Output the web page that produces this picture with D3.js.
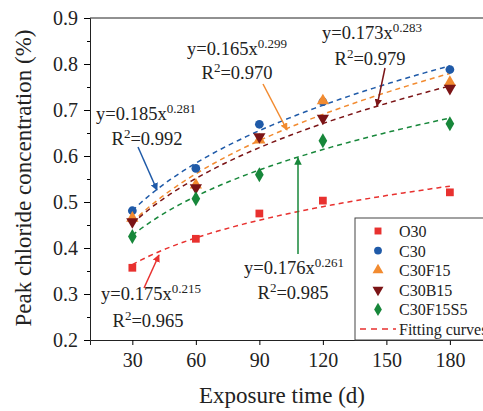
<!DOCTYPE html>
<html lang="en">
<head>
<meta charset="utf-8">
<style>
  body { margin: 0; background: white; }
  svg { background: white; }
  .tick text { font-size: 20px; }
  .ann { font-size: 18.5px; }
  .legend text { font-size: 16px; }
</style>
</head>
<body>
<div id="chart"></div>
<script src="https://d3js.org/d3.v7.min.js"></script>
<script>
// exposure times (d)
var days = [30, 60, 90, 120, 180];
var seriesNames = ["O30", "C30", "C30F15", "C30B15", "C30F15S5"];
var colors = ["#e8312f", "#1f5aa8", "#f28b30", "#7b1416", "#17873a"];

// peak chloride concentration (%)
var o30 = [0.357, 0.420, 0.475, 0.503, 0.521];
var c30 = [0.481, 0.573, 0.669, 0.718, 0.788];
var c30f15 = [0.465, 0.537, 0.635, 0.720, 0.760];
var c30b15 = [0.457, 0.531, 0.642, 0.682, 0.747];
var c30f15s5 = [0.425, 0.507, 0.559, 0.633, 0.670];

// fitted power law y = a x^b
var fitA = [0.175, 0.185, 0.165, 0.173, 0.176];
var fitB = [0.215, 0.281, 0.299, 0.283, 0.261];
var fitR2 = ["0.965", "0.992", "0.970", "0.979", "0.985"];

var xTicks = [30, 60, 90, 120, 150, 180];
var yTicks = [0.2, 0.3, 0.4, 0.5, 0.6, 0.7, 0.8, 0.9];

var allValues = [o30, c30, c30f15, c30b15, c30f15s5];

var W = 483, H = 411;
var margin = {top: 18, left: 90, bottom: 71};

var svg = d3.select("#chart").append("svg")
  .attr("width", W).attr("height", H);

var x = d3.scaleLinear().domain([10, 200]).range([margin.left, margin.left + 190 * 2.117]);
var y = d3.scaleLinear().domain([0.2, 0.9]).range([H - margin.bottom, margin.top]);

// axes
svg.append("g")
  .attr("transform", "translate(0," + y(0.2) + ")")
  .call(d3.axisBottom(x).tickValues(xTicks).tickSize(5).tickPadding(8).tickFormat(d3.format("d")))
  .call(function(g) { g.select(".domain").attr("stroke", "#222"); });

svg.append("g")
  .attr("transform", "translate(" + x(10) + ",0)")
  .call(d3.axisLeft(y).tickValues(d3.range(0.25, 0.9, 0.1)).tickSize(3).tickFormat(""))
  .call(function(g) { g.select(".domain").remove(); });

svg.append("g")
  .attr("transform", "translate(" + x(10) + ",0)")
  .call(d3.axisLeft(y).tickValues(yTicks).tickSize(6).tickPadding(6).tickFormat(d3.format(".1f")))
  .call(function(g) { g.select(".domain").attr("stroke", "#222"); });

// top frame
svg.append("line")
  .attr("x1", x(10)).attr("x2", x(200))
  .attr("y1", y(0.9)).attr("y2", y(0.9))
  .attr("stroke", "#222");

// fitting curves
var curveX = d3.range(30, 180.5, 2);
var line = d3.line().x(function(d) { return x(d[0]); }).y(function(d) { return y(d[1]); });
fitA.forEach(function(a, i) {
  var pts = curveX.map(function(t) { return [t, a * Math.pow(t, fitB[i])]; });
  svg.append("path")
    .attr("d", line(pts))
    .attr("fill", "none")
    .attr("stroke", colors[i])
    .attr("stroke-width", 1.5)
    .attr("stroke-dasharray", "5,4");
});

// markers
var symbols = [d3.symbolSquare, d3.symbolCircle, d3.symbolTriangle, d3.symbolTriangle, d3.symbolDiamond];
var sizes = [60, 60, 65, 65, 65];
var rotate = [0, 0, 0, 180, 0];
function sym(i, scale) {
  return d3.symbol().type(symbols[i]).size(sizes[i] * (scale || 1))();
}
allValues.forEach(function(vals, i) {
  svg.append("g").selectAll("path")
    .data(vals)
    .join("path")
    .attr("d", sym(i))
    .attr("fill", colors[i])
    .attr("transform", function(d, j) {
      return "translate(" + x(days[j]) + "," + y(d) + ") rotate(" + rotate[i] + ")";
    });
});

// annotations
var defs = svg.append("defs");
colors.forEach(function(c, i) {
  defs.append("marker")
    .attr("id", "arr" + i)
    .attr("viewBox", "0 0 10 10")
    .attr("refX", 9).attr("refY", 5)
    .attr("markerWidth", 5).attr("markerHeight", 5)
    .attr("orient", "auto-start-reverse")
    .append("path").attr("d", "M0,0 L10,5 L0,10 z").attr("fill", c);
});

var ann = [
  {i: 0, ex: 151, ey: 300, rx: 148, ry: 327, a: [144, 288, 159, 255]},
  {i: 1, ex: 146, ey: 120, rx: 147, ry: 145, a: [138, 147, 157, 190]},
  {i: 2, ex: 237, ey: 55, rx: 237, ry: 79, a: [263, 84, 287, 130]},
  {i: 3, ex: 372, ey: 39, rx: 370, ry: 65, a: [385, 68, 377, 106]},
  {i: 4, ex: 294, ey: 274, rx: 293, ry: 299, a: [298, 254, 298, 158]}
];

ann.forEach(function(d) {
  var t = svg.append("text").attr("class", "ann")
    .attr("x", d.ex).attr("y", d.ey).attr("text-anchor", "middle");
  t.append("tspan").text("y=" + fitA[d.i].toFixed(3) + "x");
  t.append("tspan").attr("dy", -7).attr("font-size", 13).text(fitB[d.i].toFixed(3));
  var r = svg.append("text").attr("class", "ann")
    .attr("x", d.rx).attr("y", d.ry).attr("text-anchor", "middle");
  r.append("tspan").text("R");
  r.append("tspan").attr("dy", -7).attr("font-size", 13).text("2");
  r.append("tspan").attr("dy", 7).text("=" + fitR2[d.i]);
  svg.append("line")
    .attr("x1", d.a[0]).attr("y1", d.a[1]).attr("x2", d.a[2]).attr("y2", d.a[3])
    .attr("stroke", colors[d.i]).attr("stroke-width", 1.5)
    .attr("marker-end", "url(#arr" + d.i + ")");
});

// legend
var lg = svg.append("g").attr("class", "legend");
lg.append("rect")
  .attr("x", 355).attr("y", 218)
  .attr("width", 140).attr("height", y(0.2) - 218)
  .attr("fill", "white").attr("stroke", "#444").attr("stroke-width", 1);
seriesNames.forEach(function(n, i) {
  var cy = 231 + i * 19.6;
  lg.append("path")
    .attr("d", sym(i, 0.8))
    .attr("fill", colors[i])
    .attr("transform", "translate(378," + cy + ") rotate(" + rotate[i] + ")");
  lg.append("text").attr("x", 399).attr("y", cy + 6).text(n);
});
var fy = 231 + 5 * 19.6;
lg.append("line")
  .attr("x1", 360).attr("x2", 396).attr("y1", fy).attr("y2", fy)
  .attr("stroke", colors[0]).attr("stroke-width", 1.5).attr("stroke-dasharray", "6,5");
lg.append("text").attr("x", 399).attr("y", fy + 6).text("Fitting curves");

// axis titles
svg.append("text")
  .attr("x", 282).attr("y", 403)
  .attr("text-anchor", "middle")
  .attr("font-size", 23)
  .text("Exposure time (d)");

svg.append("text")
  .attr("transform", "translate(31," + 178 + ") rotate(-90)")
  .attr("text-anchor", "middle")
  .attr("font-size", 23)
  .text("Peak chloride concentration (%)");

// serif everywhere
svg.selectAll("g").attr("font-family", null);
svg.selectAll("text")
  .attr("font-family", "Liberation Serif")
  .attr("fill", "#222");
</script>
</body>
</html>
